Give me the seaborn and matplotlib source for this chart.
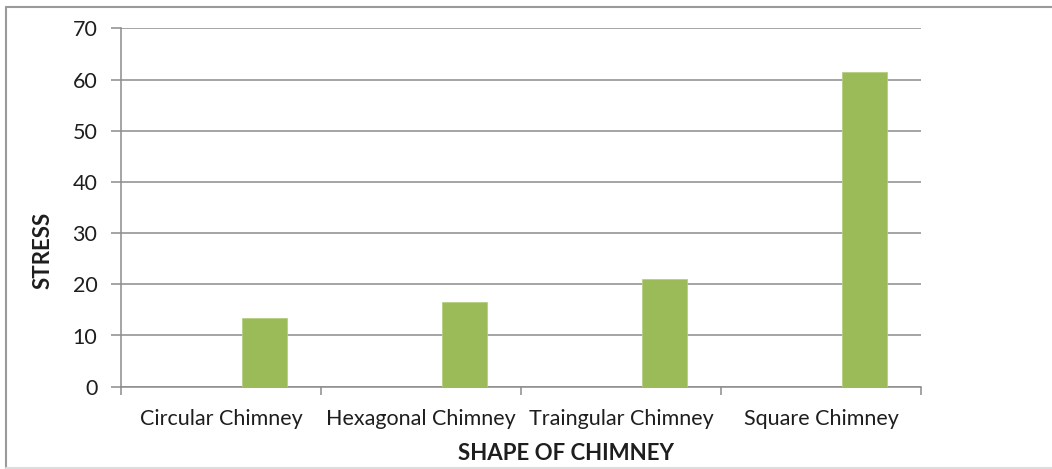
import matplotlib
matplotlib.use("Agg")
import matplotlib.pyplot as plt
from matplotlib.lines import Line2D
import seaborn as sns
import pandas as pd

# Data
shapes = ["Circular Chimney", "Hexagonal Chimney", "Traingular Chimney", "Square Chimney"]
stress = [13.5, 16.6, 21.0, 61.4]
y_ticks = [0, 10, 20, 30, 40, 50, 60, 70]

df = pd.DataFrame({"shape": shapes, "stress": stress})

sns.set_theme(style="white")
plt.rcParams["font.family"] = ["Lato", "DejaVu Sans"]

W, H, DPI = 1052, 469, 100
fig = plt.figure(figsize=(W / DPI, H / DPI), dpi=DPI)
ax = fig.add_axes([121 / W, 1 - 386.7 / H, 800 / W, (386.7 - 28.3) / H])

bar_w = 0.225
bar_shift = 0.2175
sns.barplot(data=df, x="shape", y="stress", color="#9BBB59", saturation=1,
            width=bar_w, ax=ax, edgecolor="#B5CF80", linewidth=0.6, zorder=3)
# bars sit right of each category centre, as in a clustered column layout
for p in ax.patches:
    p.set_x(p.get_x() + bar_shift)

ax.set_xlim(-0.5, 3.5)
ax.set_ylim(0, 70)
ax.set_yticks(y_ticks)
ax.yaxis.grid(True, color="#8C8C8C", linewidth=1.1, zorder=0)
ax.set_axisbelow(True)

# category labels centred, tick marks at the category boundaries
ax.set_xticks(range(len(shapes)))
ax.set_xticklabels(shapes, fontsize=15.5, color="#1E1E1E")
ax.set_xticks([i - 0.5 for i in range(len(shapes) + 1)], minor=True)
ax.tick_params(axis="x", which="major", length=0, pad=16)
ax.tick_params(axis="x", which="minor", length=6, width=1.1, color="#8C8C8C", direction="out", bottom=True)
ax.tick_params(axis="y", length=7, width=1.1, color="#8C8C8C", direction="out", left=True,
               labelsize=15.5, labelcolor="#1E1E1E", pad=10)

for s in ["top", "right"]:
    ax.spines[s].set_visible(False)
for s in ["left", "bottom"]:
    ax.spines[s].set_color("#8C8C8C")
    ax.spines[s].set_linewidth(1.1)

ax.set_xlabel("SHAPE OF CHIMNEY", fontsize=16, fontweight="bold", color="#1E1E1E", va="center")
ax.set_ylabel("STRESS", fontsize=16, fontweight="bold", color="#1E1E1E", va="center")
ax.xaxis.set_label_coords(0.556, -0.185)
ax.yaxis.set_label_coords(-0.0975, 0.381)

# chart-area frame
fig.add_artist(Line2D([6 / W, 1], [1 - 7 / H, 1 - 7 / H], transform=fig.transFigure, color="#9A9A9A", linewidth=1.5))
fig.add_artist(Line2D([6 / W, 6 / W], [0, 1 - 7 / H], transform=fig.transFigure, color="#9A9A9A", linewidth=1.5))
fig.add_artist(Line2D([6 / W, 1], [1.2 / H, 1.2 / H], transform=fig.transFigure, color="#DDDDDD", linewidth=1.5))

fig.savefig("out.png", dpi=DPI)
